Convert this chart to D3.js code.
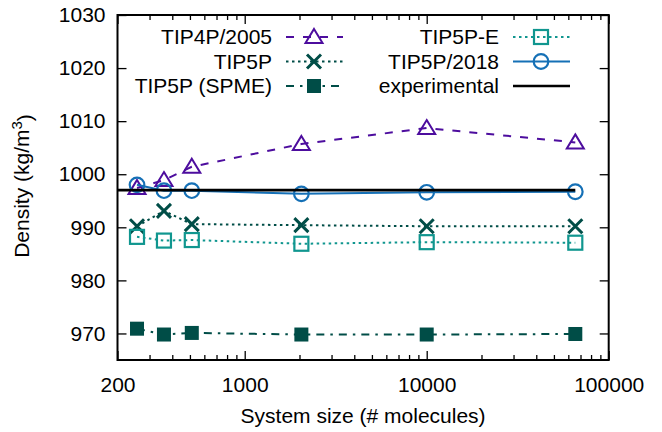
<!DOCTYPE html>
<html>
<head>
<meta charset="utf-8">
<script src="https://cdn.jsdelivr.net/npm/d3@7"></script>
<style>
  body { margin: 0; background: #fff; }
  svg text { font-family: "Liberation Sans", Arial, sans-serif; font-size: 21px; fill: #000; }
</style>
</head>
<body>
<svg id="chart"></svg>
<script>
// system sizes and densities
const sizes = [256, 360, 512, 2048, 10000, 65536]
const tip4p2005 = [997.4, 998.9, 1001.4, 1005.7, 1008.7, 1006.0]
const tip5p = [990.2, 993.1, 990.6, 990.4, 990.2, 990.2]
const tip5pSpme = [970.9, 969.8, 970.1, 969.8, 969.8, 969.9]
const tip5pE = [988.2, 987.5, 987.6, 986.9, 987.2, 987.1]
const tip5p2018 = [998.0, 996.9, 996.9, 996.3, 996.6, 996.7]
const experimentalSizes = [200, 65536]
const experimental = [997.0, 997.0]

const xTicks = [200, 1000, 10000, 100000]
const xMinor = [300, 400, 500, 600, 700, 800, 900,
  2000, 3000, 4000, 5000, 6000, 7000, 8000, 9000,
  20000, 30000, 40000, 50000, 60000, 70000, 80000, 90000]
const yTicks = [970, 980, 990, 1000, 1010, 1020, 1030]

let width = 662
let height = 432
let padLeft = 117.5, padRight = 608.7, padTop = 15, padBottom = 360

let svg = d3.select("#chart").attr("width", width).attr("height", height)

let xScale = d3.scaleLog().domain([200, 100000]).range([padLeft, padRight])
let yScale = d3.scaleLinear().domain([965, 1030]).range([padBottom, padTop])

// axes (ticks point inward, mirrored on top/right)
let styleAxis = (g) => {
  g.select(".domain").remove()
  g.selectAll("line").attr("stroke", "#000").attr("stroke-width", 1.3)
  g.selectAll("text").attr("font-size", 21).attr("font-family", "Liberation Sans, Arial, sans-serif")
}

svg.append("g").attr("transform", "translate(0," + padBottom + ")")
  .call(d3.axisBottom(xScale).tickValues(xTicks).tickFormat(d3.format("d")).tickSizeInner(-9).tickSizeOuter(0).tickPadding(17))
  .call(styleAxis)
svg.append("g").attr("transform", "translate(0," + padBottom + ")")
  .call(d3.axisBottom(xScale).tickValues(xMinor).tickFormat("").tickSizeInner(-5).tickSizeOuter(0))
  .call(styleAxis)
svg.append("g").attr("transform", "translate(0," + padTop + ")")
  .call(d3.axisTop(xScale).tickValues(xTicks).tickFormat("").tickSizeInner(-9).tickSizeOuter(0))
  .call(styleAxis)
svg.append("g").attr("transform", "translate(0," + padTop + ")")
  .call(d3.axisTop(xScale).tickValues(xMinor).tickFormat("").tickSizeInner(-5).tickSizeOuter(0))
  .call(styleAxis)
svg.append("g").attr("transform", "translate(" + padLeft + ",0)")
  .call(d3.axisLeft(yScale).tickValues(yTicks).tickFormat(d3.format("d")).tickSizeInner(-9).tickSizeOuter(0).tickPadding(12))
  .call(styleAxis)
svg.append("g").attr("transform", "translate(" + padRight + ",0)")
  .call(d3.axisRight(yScale).tickValues(yTicks).tickFormat("").tickSizeInner(-9).tickSizeOuter(0))
  .call(styleAxis)

// series
let series = [
  { name: "TIP4P/2005", ys: tip4p2005, color: "#4d0d9e", dash: "8,9", marker: "triangle", col: 0, row: 0 },
  { name: "TIP5P", ys: tip5p, color: "#004d47", dash: "2.5,3.5", marker: "cross", col: 0, row: 1 },
  { name: "TIP5P (SPME)", ys: tip5pSpme, color: "#004d47", dash: "8,6,2.5,6", marker: "filled", col: 0, row: 2 },
  { name: "TIP5P-E", ys: tip5pE, color: "#10968f", dash: "2.5,3.5", marker: "square", col: 1, row: 0 },
  { name: "TIP5P/2018", ys: tip5p2018, color: "#1570b6", dash: null, marker: "circle", col: 1, row: 1 }
]

let line = d3.line().x(d => xScale(d[0])).y(d => yScale(d[1]))

let drawMarker = (g, type, color, cx, cy) => {
  if (type === "triangle") {
    g.append("path").attr("d", "M" + cx + "," + (cy - 8) + "L" + (cx + 8.5) + "," + (cy + 6) + "L" + (cx - 8.5) + "," + (cy + 6) + "Z")
      .attr("fill", "none").attr("stroke", color).attr("stroke-width", 2)
  } else if (type === "cross") {
    g.append("path").attr("d", "M" + (cx - 7) + "," + (cy - 7) + "L" + (cx + 7) + "," + (cy + 7) + "M" + (cx - 7) + "," + (cy + 7) + "L" + (cx + 7) + "," + (cy - 7))
      .attr("stroke", color).attr("stroke-width", 3)
  } else if (type === "filled") {
    g.append("rect").attr("x", cx - 7).attr("y", cy - 7).attr("width", 14).attr("height", 14).attr("fill", color)
  } else if (type === "square") {
    g.append("rect").attr("x", cx - 7).attr("y", cy - 7).attr("width", 14).attr("height", 14)
      .attr("fill", "none").attr("stroke", color).attr("stroke-width", 2.2)
  } else if (type === "circle") {
    g.append("circle").attr("cx", cx).attr("cy", cy).attr("r", 7.3)
      .attr("fill", "none").attr("stroke", color).attr("stroke-width", 2.2)
  }
}

let plot = svg.append("g")

series.forEach(s => {
  let pts = sizes.map((n, i) => [n, s.ys[i]])
  plot.append("path").datum(pts).attr("d", line)
    .attr("fill", "none").attr("stroke", s.color).attr("stroke-width", 2)
    .attr("stroke-dasharray", s.dash)
  pts.forEach(p => drawMarker(plot, s.marker, s.color, xScale(p[0]), yScale(p[1])))
})

// experimental reference line
plot.append("path").datum(experimentalSizes.map((n, i) => [n, experimental[i]])).attr("d", line)
  .attr("fill", "none").attr("stroke", "#000").attr("stroke-width", 2.6)

// legend
let legend = svg.append("g")
let legendItems = series.concat([{ name: "experimental", color: "#000", dash: null, marker: null, col: 1, row: 2 }])
let textEnd = [272, 499]
let sampleStart = [286, 513]
legendItems.forEach(s => {
  let yy = 37 + s.row * 24.5
  legend.append("text").attr("x", textEnd[s.col]).attr("y", yy).attr("dy", "0.35em")
    .attr("text-anchor", "end").text(s.name)
  let x0 = sampleStart[s.col]
  legend.append("line").attr("x1", x0).attr("x2", x0 + 57).attr("y1", yy).attr("y2", yy)
    .attr("stroke", s.color).attr("stroke-width", s.marker ? 2 : 2.6).attr("stroke-dasharray", s.dash)
  if (s.marker) drawMarker(legend, s.marker, s.color, x0 + 28, yy)
})

// border
svg.append("rect").attr("x", padLeft).attr("y", padTop).attr("width", padRight - padLeft).attr("height", padBottom - padTop)
  .attr("fill", "none").attr("stroke", "#000").attr("stroke-width", 2)

// axis titles
svg.append("text").attr("x", (padLeft + padRight) / 2).attr("y", 423).attr("text-anchor", "middle")
  .text("System size (# molecules)")
let yt = svg.append("text").attr("transform", "translate(29,186) rotate(-90)").attr("text-anchor", "middle")
yt.append("tspan").text("Density (kg/m")
yt.append("tspan").attr("dy", "-0.45em").attr("font-size", 15).text("3")
yt.append("tspan").attr("dy", "0.45em").text(")")
</script>
</body>
</html>
